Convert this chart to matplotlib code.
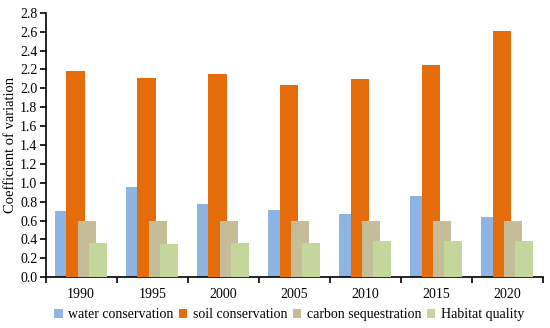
import numpy as np
from matplotlib import pyplot as plt

years = ["1990", "1995", "2000", "2005", "2010", "2015", "2020"]
water = [0.70, 0.95, 0.77, 0.71, 0.67, 0.86, 0.64]
soil = [2.18, 2.11, 2.15, 2.04, 2.10, 2.25, 2.61]
carbon = [0.59, 0.59, 0.59, 0.59, 0.59, 0.60, 0.60]
habitat = [0.36, 0.35, 0.36, 0.36, 0.38, 0.38, 0.38]

labels = ["water conservation", "soil conservation", "carbon sequestration", "Habitat quality"]
colors = ["#8DB4E2", "#E46C0A", "#C4BD97", "#C3D69B"]

plt.rcParams['font.family'] = ['Liberation Serif', 'DejaVu Serif']

fig = plt.figure(figsize=(5.5, 3.28), dpi=100)
ax = fig.add_axes([0.083, 0.155, 0.904, 0.806])

x = np.arange(len(years))
width = 0.257
step = 0.158
series = [water, soil, carbon, habitat]
for i, (vals, lab, col) in enumerate(zip(series, labels, colors)):
    ax.bar(x + (i - 1.5) * step, vals, width, color=col, label=lab, zorder=2 + i)

ax.set_xlim(-0.5, len(years) - 0.5)
ax.set_ylim(0, 2.8)
ax.set_yticks(np.arange(0, 2.81, 0.2))
ax.set_yticklabels(["%.1f" % v for v in np.arange(0, 2.81, 0.2)], fontsize=10)
ax.set_xticks(np.arange(-0.5, len(years), 1.0))
ax.set_xticklabels([])
ax.set_xticks(x, minor=True)
ax.set_xticklabels(years, minor=True, fontsize=10)
ax.tick_params(axis='x', which='minor', length=0, pad=8)
ax.tick_params(axis='x', which='major', length=4, width=1.2, direction='out')
ax.tick_params(axis='y', length=4, width=1.2, direction='out', pad=2)

for s in ['top', 'right']:
    ax.spines[s].set_visible(False)
ax.spines['left'].set_linewidth(1.2)
ax.spines['bottom'].set_linewidth(1.2)

ax.set_ylabel("Coefficient of variation", fontsize=10.5, labelpad=2)

ax.legend(loc='upper center', bbox_to_anchor=(0.49, -0.08), ncol=4, frameon=False,
          fontsize=10, handlelength=0.6, handleheight=0.6, handletextpad=0.4,
          columnspacing=0.4, borderpad=0.2)

fig.savefig("out.png", dpi=100)
